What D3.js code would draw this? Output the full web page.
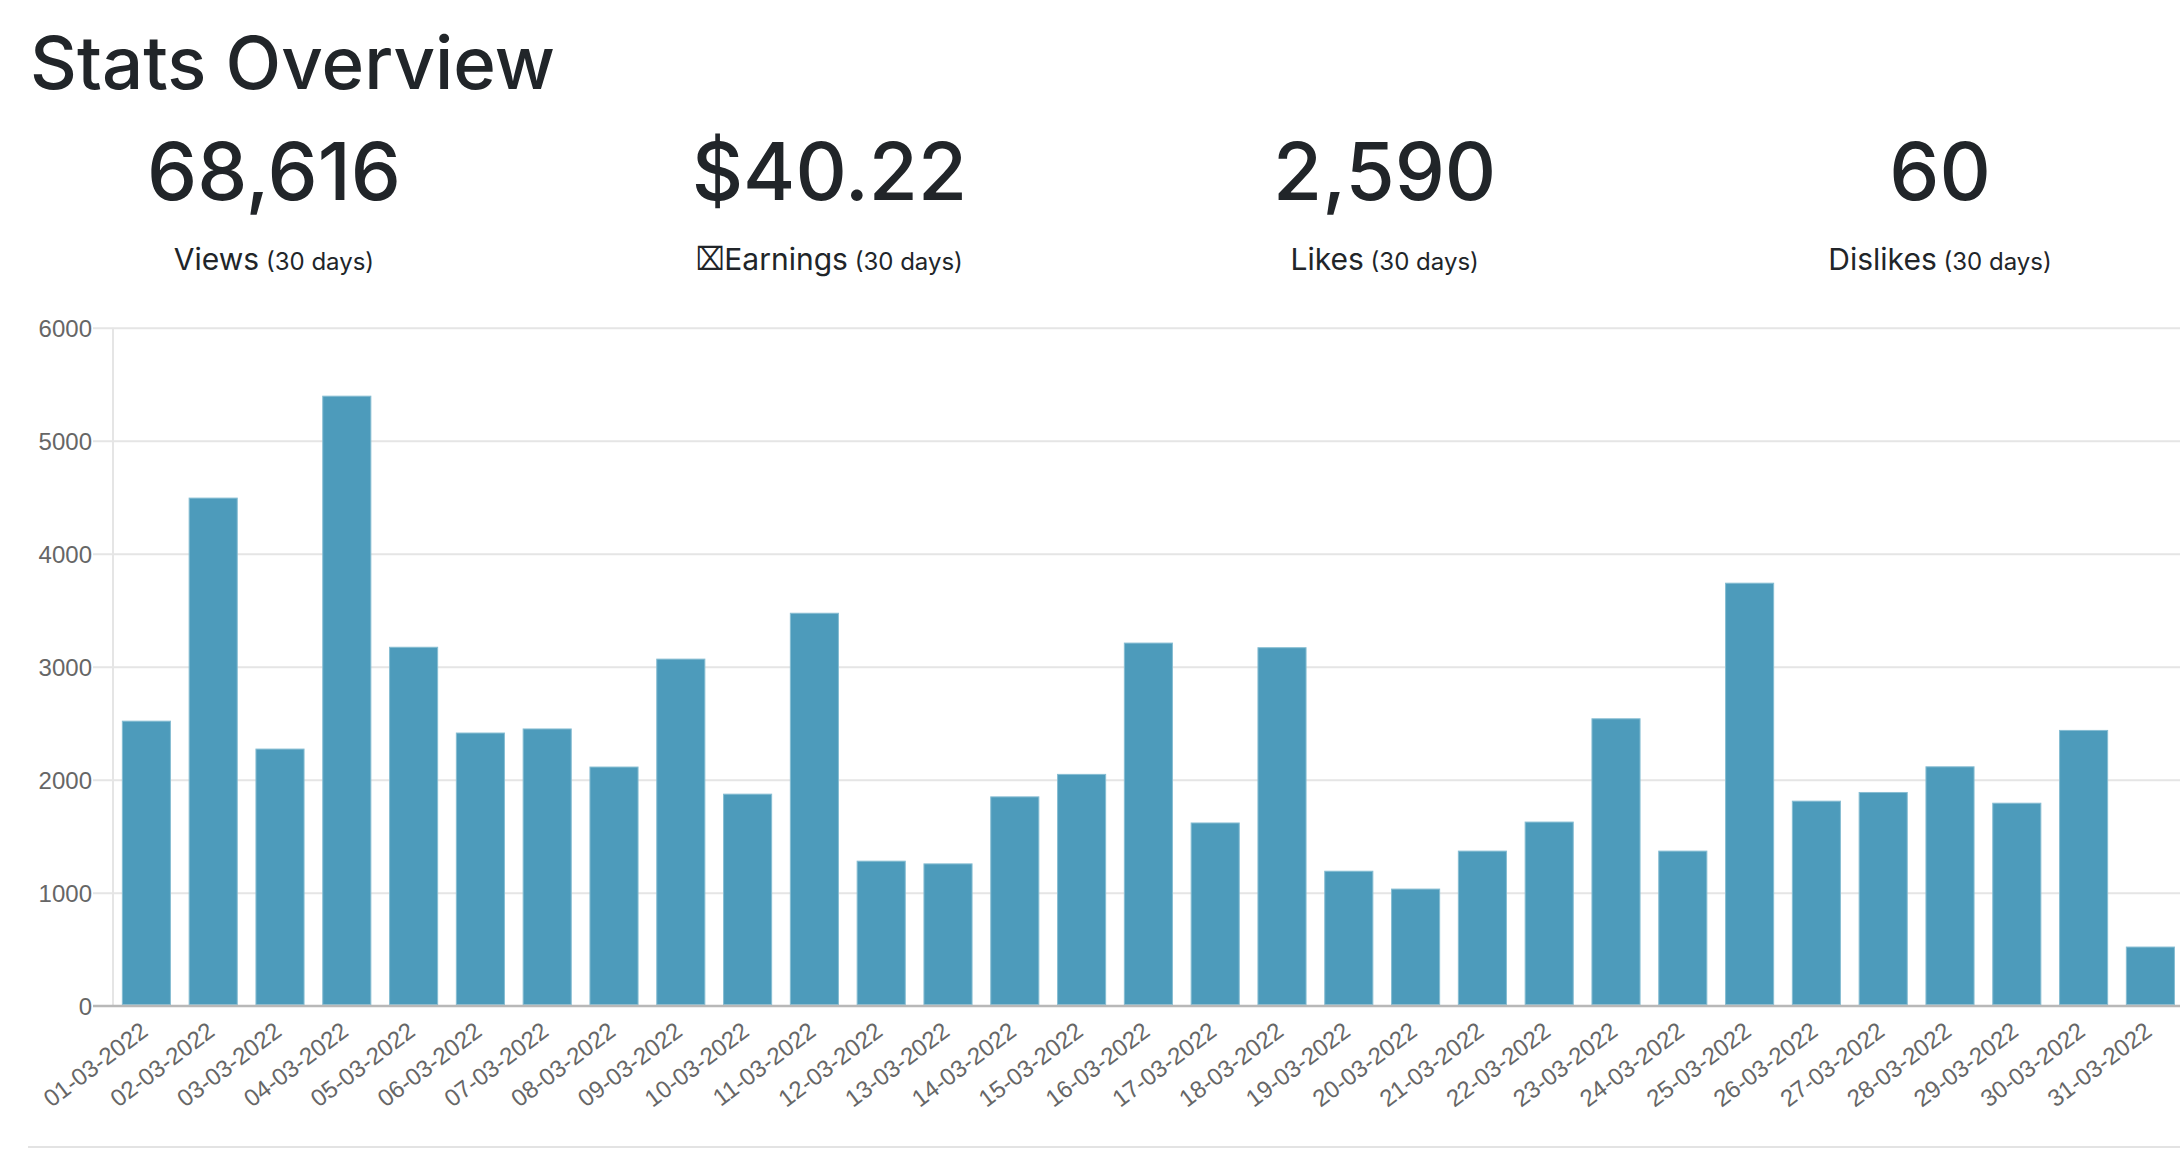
<!DOCTYPE html>
<html>
<head>
<meta charset="utf-8">
<script src="https://cdn.jsdelivr.net/npm/d3@7"></script>
<style>
  html, body { margin: 0; padding: 0; background: #ffffff; }
  svg { display: block; }
</style>
</head>
<body>
<svg id="chart" width="2180" height="1150"></svg>
<script>
// ---------- data ----------
const pageTitle = "Stats Overview";
const statValues = ["68,616", "$40.22", "2,590", "60"];
const statLabels = ["Views", "\u2327Earnings", "Likes", "Dislikes"];
const statPeriod = "(30 days)";

const dates = [
  "01-03-2022","02-03-2022","03-03-2022","04-03-2022","05-03-2022","06-03-2022",
  "07-03-2022","08-03-2022","09-03-2022","10-03-2022","11-03-2022","12-03-2022",
  "13-03-2022","14-03-2022","15-03-2022","16-03-2022","17-03-2022","18-03-2022",
  "19-03-2022","20-03-2022","21-03-2022","22-03-2022","23-03-2022","24-03-2022",
  "25-03-2022","26-03-2022","27-03-2022","28-03-2022","29-03-2022","30-03-2022",
  "31-03-2022"
];
const views = [
  2518, 4492, 2271, 5394, 3172, 2413, 2449, 2112, 3067, 1872, 3473, 1279,
  1255, 1848, 2047, 3209, 1617, 3168, 1190, 1032, 1368, 1625, 2539, 1368,
  3739, 1810, 1887, 2114, 1792, 2436, 519
];
const yTicks = [0, 1000, 2000, 3000, 4000, 5000, 6000];

// ---------- setup ----------
const svg = d3.select("#chart");
const W = 2180, H = 1150;
svg.append("rect").attr("width", W).attr("height", H).attr("fill", "#ffffff");

const headFont = "Inter, 'Noto Sans', 'Liberation Sans', sans-serif";
const chartFont = "'Liberation Sans', Arial, Helvetica, sans-serif";
const textColor = "#212529";

function fitWidth(sel, target) {
  const node = sel.node();
  const fs = parseFloat(sel.attr("font-size"));
  const w = node.getComputedTextLength();
  if (w > 0) sel.attr("font-size", fs * target / w);
}

// ---------- header ----------
const title = svg.append("text")
  .attr("x", 30).attr("y", 89)
  .attr("font-family", headFont).attr("font-size", 80)
  .attr("font-weight", 500)
  .attr("fill", textColor)
  .text(pageTitle);
fitWidth(title, 525);

const colCenter = d3.scaleLinear().domain([0, 3]).range([274, 1940]);

// numbers: fit "68,616" width, apply to all
const probe = svg.append("text").attr("font-family", headFont)
  .attr("font-size", 80).attr("font-weight", 500).text(statValues[0]);
fitWidth(probe, 254);
const numSize = +probe.attr("font-size");
probe.remove();

svg.selectAll("text.stat-num").data(statValues).join("text")
  .attr("class", "stat-num")
  .attr("x", (d, i) => colCenter(i)).attr("y", 200)
  .attr("text-anchor", "middle")
  .attr("font-family", headFont).attr("font-size", numSize)
  .attr("font-weight", 500)
  .attr("fill", textColor)
  .text(d => d);

// labels: optional "missing glyph" box drawn as its own text, then word + period
const labelY = 270;
const boxSX = 0.92, boxSY = 1.2;
statLabels.forEach((d, i) => {
  const cx = colCenter(i);
  const hasBox = d.startsWith("\u2327");
  const word = hasBox ? d.slice(1) : d;
  const t = svg.append("text")
    .attr("class", "stat-label")
    .attr("y", labelY)
    .attr("font-family", headFont)
    .attr("fill", textColor);
  t.append("tspan").attr("font-size", 30).text(word);
  t.append("tspan").attr("font-size", 24).text(" " + statPeriod);
  const restW = t.node().getComputedTextLength();
  let boxW = 0, box = null;
  if (hasBox) {
    box = svg.append("text")
      .attr("font-family", "'DejaVu Sans', sans-serif")
      .attr("font-size", 27).attr("font-weight", 300)
      .attr("fill", textColor)
      .text("\u2327");
    boxW = box.node().getComputedTextLength() * boxSX;
  }
  const left = cx - (restW + boxW) / 2;
  if (box) box.attr("transform", `translate(${left},${labelY}) scale(${boxSX},${boxSY})`);
  t.attr("x", left + boxW);
});

// ---------- chart ----------
const y = d3.scaleLinear().domain([0, 6000]).range([1005.7, 327.7]);
const x = d3.scaleBand().domain(dates).range([113, 2183.8])
  .paddingInner(0.28).paddingOuter(0.14);

const plotRight = W;

// horizontal gridlines + tick marks
const yAxis = d3.axisLeft(y).tickValues(yTicks).tickSize(-(plotRight - 113)).tickPadding(0).tickFormat(d3.format("d"));
const gy = svg.append("g").attr("transform", "translate(113,0)").call(yAxis);
gy.select(".domain").remove();
gy.selectAll(".tick line")
  .attr("x1", -20)
  .attr("stroke", d => d === 0 ? "#b8b8b8" : "#e5e5e5")
  .attr("stroke-width", 2);
gy.selectAll(".tick text")
  .attr("x", -21)
  .attr("dy", "0.35em")
  .attr("font-family", chartFont).attr("font-size", 24)
  .attr("fill", "#666666");

// y-axis border line
svg.append("line")
  .attr("x1", 113).attr("x2", 113)
  .attr("y1", y(6000)).attr("y2", y(0))
  .attr("stroke", "#e5e5e5").attr("stroke-width", 2);

// bars
svg.append("g").selectAll("rect").data(views).join("rect")
  .attr("x", (d, i) => x(dates[i]))
  .attr("width", x.bandwidth())
  .attr("y", d => y(d))
  .attr("height", d => y(0) - y(d) - 1)
  .attr("fill", "#4d9bbb")
  .attr("stroke", "#86bdd2")
  .attr("stroke-width", 1);

// redraw zero line over bars
svg.append("line")
  .attr("x1", 93).attr("x2", plotRight)
  .attr("y1", y(0)).attr("y2", y(0))
  .attr("stroke", "#b8b8b8").attr("stroke-width", 2);

// x labels (rotated)
const xAxis = d3.axisBottom(x).tickSize(0).tickPadding(0);
const gx = svg.append("g").attr("transform", "translate(0,0)").call(xAxis);
gx.select(".domain").remove();
gx.selectAll(".tick").attr("transform", null);
gx.selectAll(".tick text")
  .attr("transform", d => `translate(${x(d) + x.bandwidth() / 2 - 2},1027.5) rotate(-37)`)
  .attr("x", 0).attr("y", 0)
  .attr("dy", "0.35em")
  .attr("text-anchor", "end")
  .attr("font-family", chartFont).attr("font-size", 24)
  .attr("fill", "#666666");

// bottom rule
svg.append("line")
  .attr("x1", 28).attr("x2", W)
  .attr("y1", 1147).attr("y2", 1147)
  .attr("stroke", "#e3e3e3").attr("stroke-width", 2);
</script>
</body>
</html>
